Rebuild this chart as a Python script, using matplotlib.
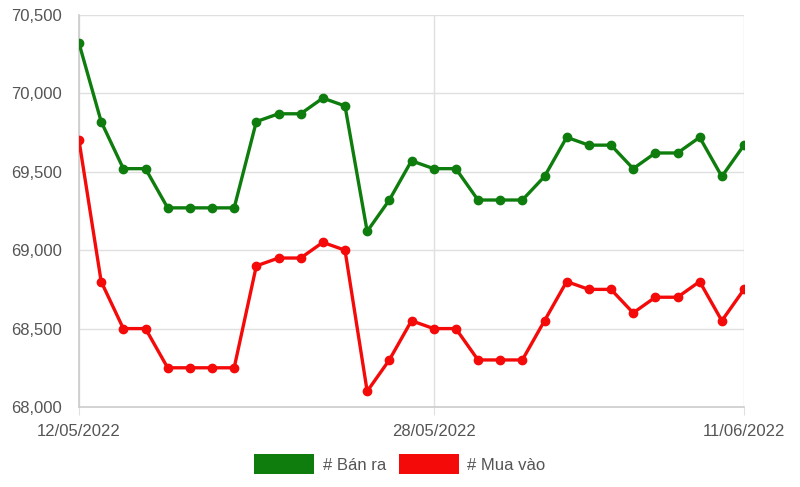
import matplotlib
matplotlib.use("Agg")
import matplotlib.pyplot as plt
from matplotlib.patches import Patch

plt.rcParams['font.family'] = ['Liberation Sans', 'DejaVu Sans']

days = list(range(31))
tick_pos = [0, 16, 30]
tick_labels = ["12/05/2022", "28/05/2022", "11/06/2022"]

ban_ra = [70320, 69820, 69520, 69520, 69270, 69270, 69270, 69270, 69820, 69870,
          69870, 69970, 69920, 69120, 69320, 69570, 69520, 69520, 69320, 69320,
          69320, 69470, 69720, 69670, 69670, 69520, 69620, 69620, 69720, 69470, 69670]
mua_vao = [69700, 68800, 68500, 68500, 68250, 68250, 68250, 68250, 68900, 68950,
           68950, 69050, 69000, 68100, 68300, 68550, 68500, 68500, 68300, 68300,
           68300, 68550, 68800, 68750, 68750, 68600, 68700, 68700, 68800, 68550, 68750]

green = '#0e7d0e'
red = '#f50a0a'

fig = plt.figure(figsize=(8, 4.87), dpi=100)
ax = fig.add_axes([0.09875, 0.1643, 0.83125, 0.8049])

ax.plot(days, ban_ra, color=green, linewidth=2.4, marker='o', markersize=6, zorder=3)
ax.plot(days, mua_vao, color=red, linewidth=2.4, marker='o', markersize=6, zorder=3)

ax.set_xlim(0, 30)
ax.set_ylim(68000, 70500)
ax.set_yticks([68000, 68500, 69000, 69500, 70000, 70500])
ax.set_yticklabels(["68,000", "68,500", "69,000", "69,500", "70,000", "70,500"])
ax.set_xticks(tick_pos)
ax.set_xticklabels(tick_labels)

ax.grid(True, color='#e0e0e0', linewidth=1)
ax.set_axisbelow(True)
for s in ['top', 'right']:
    ax.spines[s].set_visible(False)
for s in ['left', 'bottom']:
    ax.spines[s].set_color('#cccccc')
    ax.spines[s].set_linewidth(1.2)

ax.tick_params(axis='y', length=0, pad=12, labelsize=12, labelcolor='#555555')
ax.tick_params(axis='x', length=6, color='#e0e0e0', pad=6, labelsize=12, labelcolor='#555555')

handles = [Patch(facecolor=green, label='# Bán ra'), Patch(facecolor=red, label='# Mua vào')]
fig.legend(handles=handles, loc='lower center', ncol=2, frameon=False,
           bbox_to_anchor=(0.5, -0.005), fontsize=12, handlelength=3.6, handleheight=1.5,
           handletextpad=0.5, columnspacing=0.8, labelcolor='#555555')

fig.savefig('out.png', dpi=100)
